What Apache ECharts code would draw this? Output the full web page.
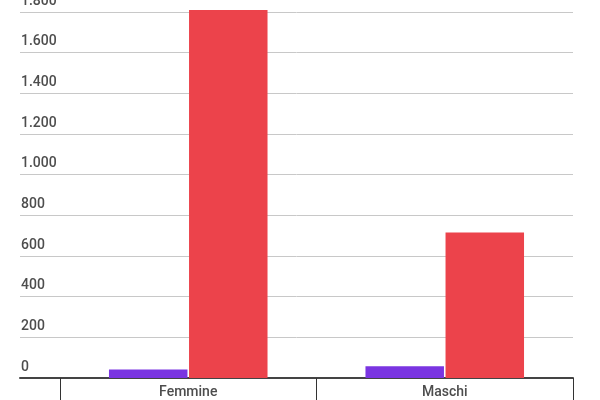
<!DOCTYPE html>
<html>
<head>
<meta charset="utf-8">
<script src="https://cdn.jsdelivr.net/npm/echarts@6/dist/echarts.min.js"></script>
<style>
html,body{margin:0;padding:0;background:#fff;}
#chart{width:600px;height:400px;}
</style>
</head>
<body>
<div id="chart"></div>
<script>
const categories = ['Femmine', 'Maschi'];
const seriesPurple = [42, 58];
const seriesRed = [1810, 716];
const yTicks = [0, 200, 400, 600, 800, 1000, 1200, 1400, 1600, 1800];

const fmt = v => String(v).replace(/\B(?=(\d{3})+(?!\d))/g, '.');
const chart = echarts.init(document.getElementById('chart'), null, {renderer: 'canvas'});
const textColor = '#4d4d4d';
chart.setOption({
  animation: false,
  textStyle: {fontFamily: 'Roboto'},
  grid: [
    {left: 20, right: 27, top: 12, bottom: 22, outerBoundsMode: 'none', containLabel: false},
    {left: 60, right: 27, top: 12, bottom: 22, outerBoundsMode: 'none', containLabel: false}
  ],
  xAxis: [
    {type: 'value', gridIndex: 0, min: 0, max: 1, show: true,
     axisLine: {show: true, onZero: false, lineStyle: {color: '#444', width: 2}},
     axisTick: {show: false}, axisLabel: {show: false}, splitLine: {show: false}},
    {type: 'category', gridIndex: 1, data: categories,
     axisLine: {show: false},
     axisTick: {show: true, length: 22, lineStyle: {color: '#333', width: 1}},
     axisLabel: {color: textColor, fontSize: 14, fontWeight: 500, margin: 7, fontFamily: 'Roboto'}}
  ],
  yAxis: [
    {type: 'value', gridIndex: 0, min: yTicks[0], max: yTicks[yTicks.length - 1], interval: 200,
     axisLine: {show: false}, axisTick: {show: false},
     splitLine: {show: true, lineStyle: {color: '#c8c8c8', width: 1}},
     axisLabel: {inside: true, margin: 1, align: 'left', verticalAlign: 'bottom',
                 padding: [0, 0, 4, 0], color: textColor, fontSize: 14, fontWeight: 500, fontFamily: 'Roboto',
                 formatter: fmt}},
    {type: 'value', gridIndex: 1, min: yTicks[0], max: yTicks[yTicks.length - 1], interval: 200, show: false,
     splitLine: {show: false}}
  ],
  series: [
    {type: 'bar', xAxisIndex: 1, yAxisIndex: 1, data: seriesPurple, clip: false,
     barWidth: '30.6%', barGap: '2%', itemStyle: {color: '#7A35E1'}},
    {type: 'bar', xAxisIndex: 1, yAxisIndex: 1, data: seriesRed, clip: false,
     barWidth: '30.6%', barGap: '2%', itemStyle: {color: '#EC434B'}}
  ]
});
</script>
</body>
</html>
